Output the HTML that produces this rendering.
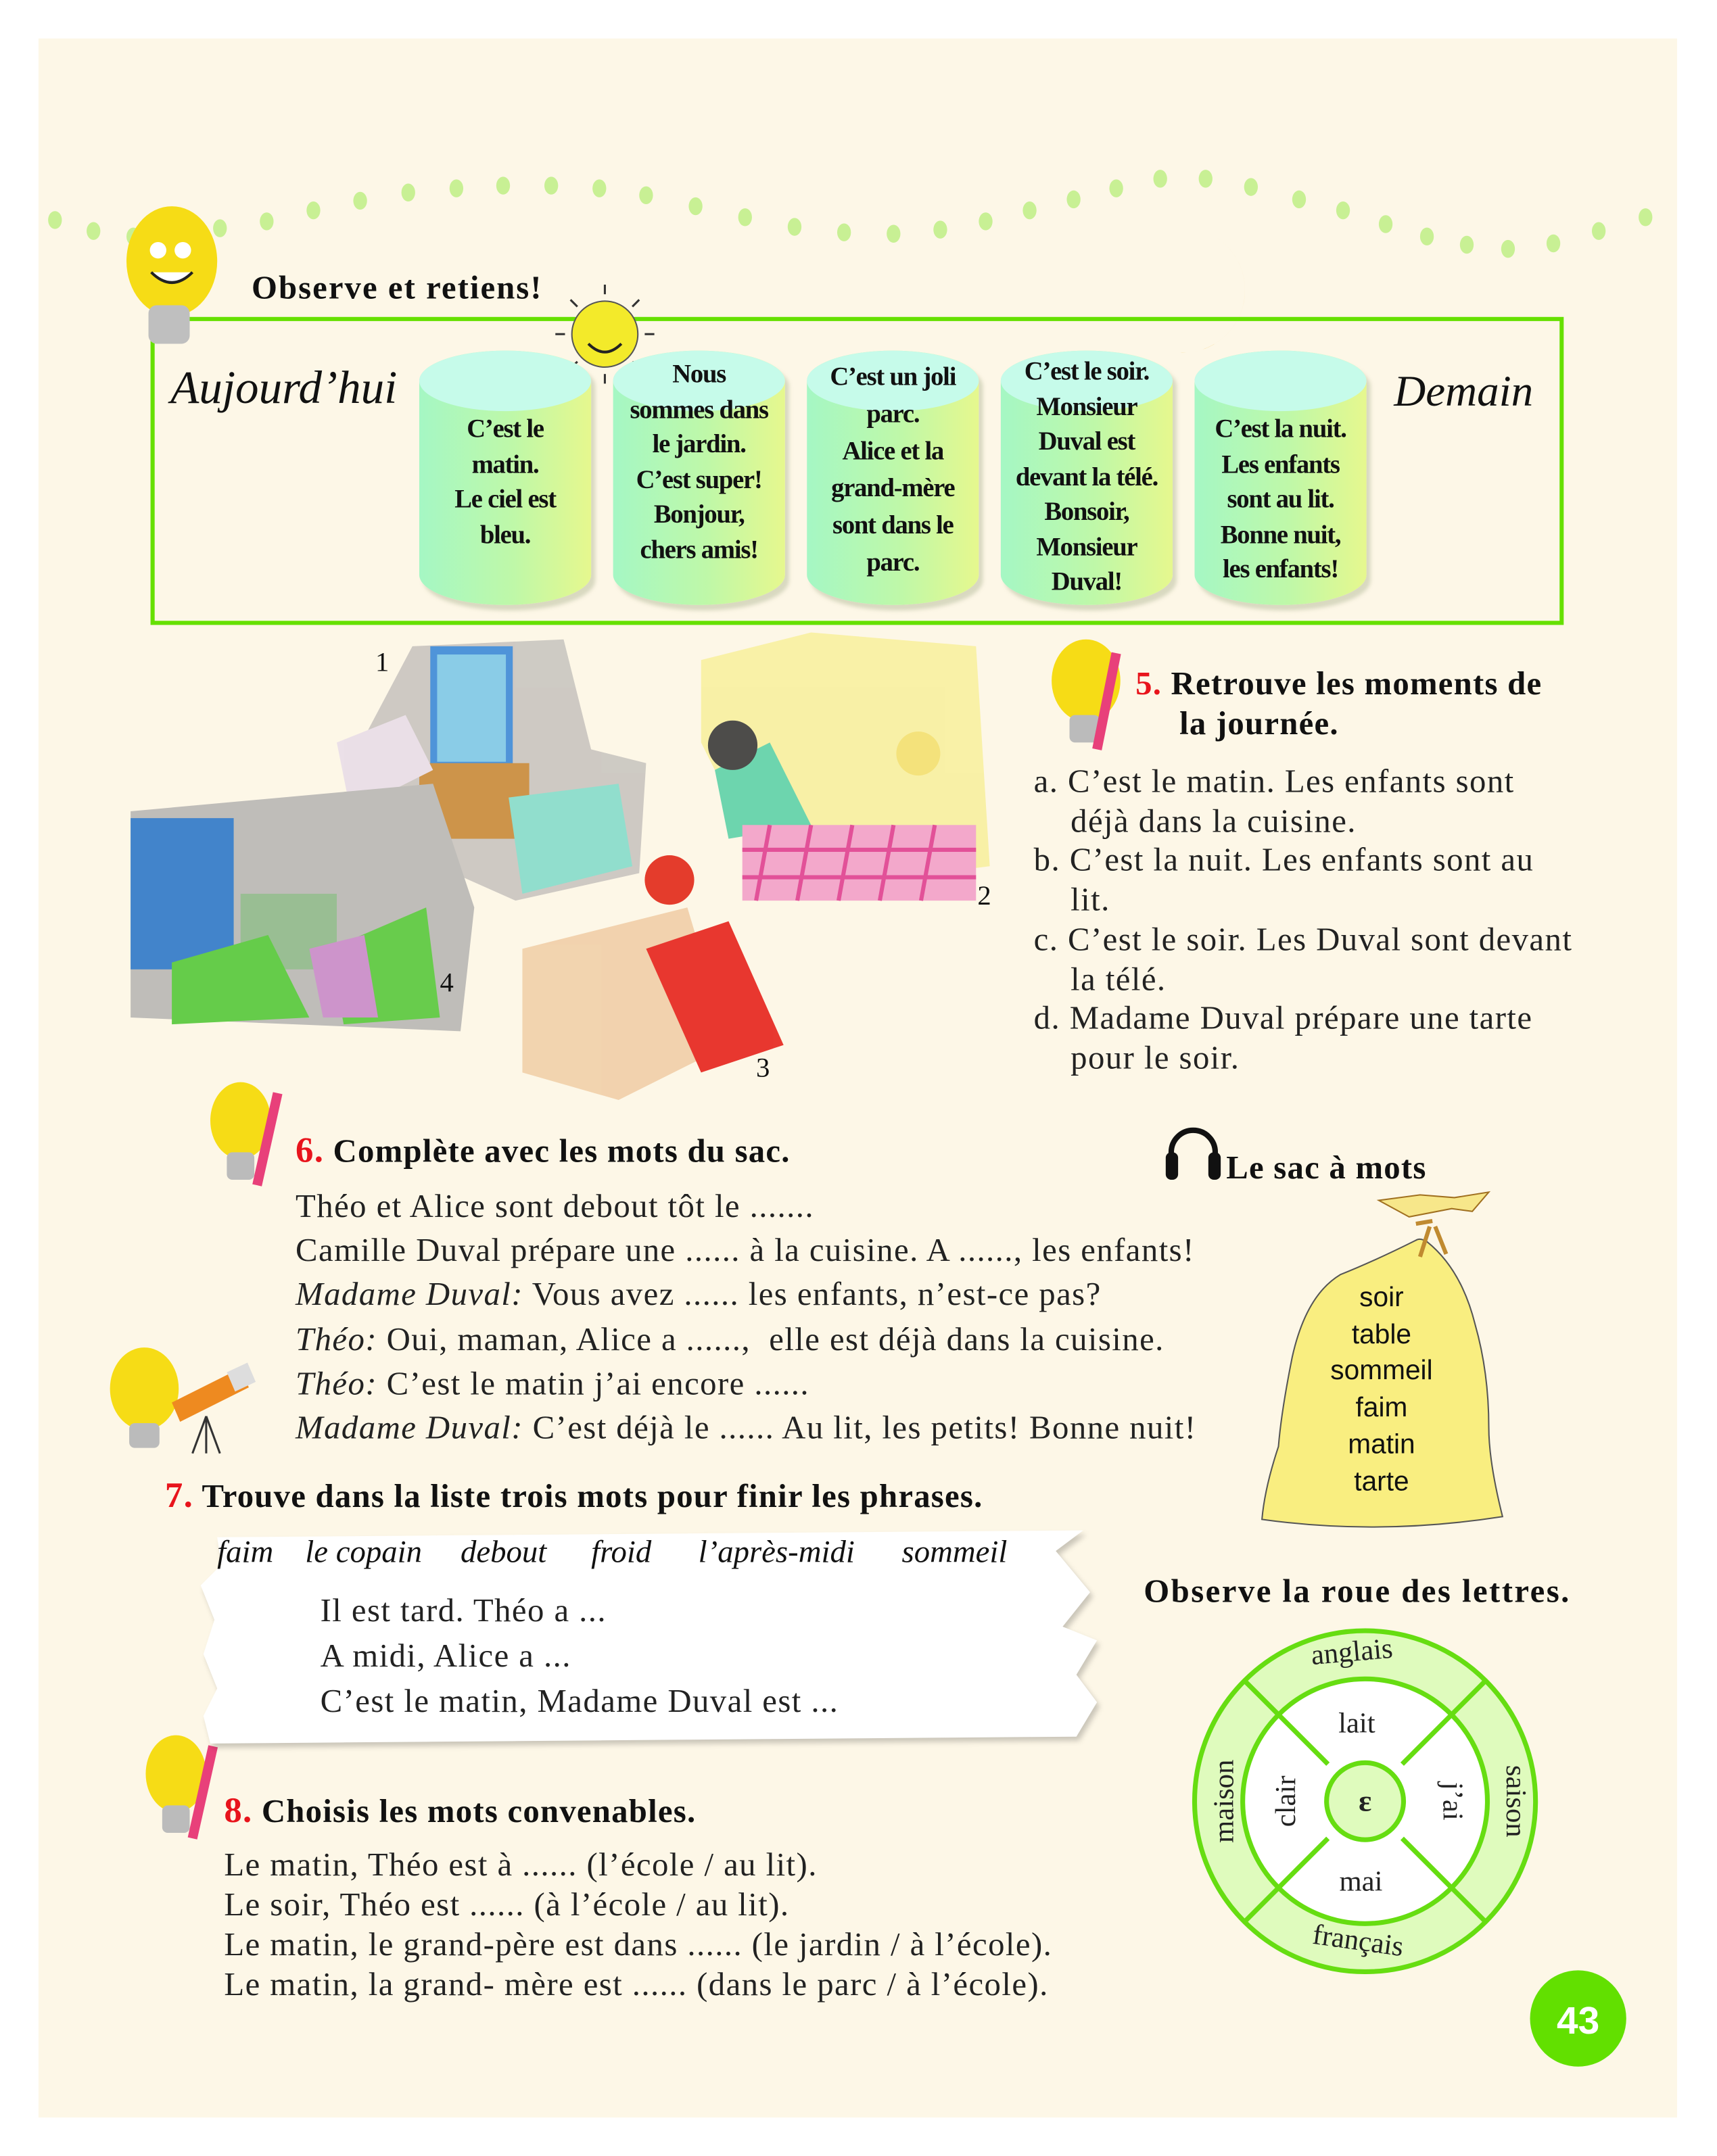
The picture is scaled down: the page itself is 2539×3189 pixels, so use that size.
<!DOCTYPE html>
<html><head><meta charset="utf-8">
<style>
html,body{margin:0;padding:0;background:#fff;}
body{width:2539px;height:3189px;overflow:hidden;position:relative;}
#s{position:absolute;left:0;top:0;width:1249px;height:1568px;transform:scale(2.0328,2.0338);transform-origin:0 0;}
.t{position:absolute;white-space:nowrap;color:#111;}
.serif{font-family:"Liberation Serif",serif;}
.sans{font-family:"Liberation Sans",sans-serif;}
.cyl{position:absolute;top:255px;width:125px;height:185px;border-radius:62px/22px;background:linear-gradient(90deg,#a5f7c4,#bff8a8 55%,#e6f88e);box-shadow:3px 4px 3px rgba(150,160,120,.35);}
.cyl:before{content:"";position:absolute;left:0;top:0;width:125px;height:44px;border-radius:50%;background:#c6fbea;}
.ct{position:absolute;left:0;width:125px;text-align:center;font-family:"Liberation Serif",serif;font-weight:bold;font-size:19px;line-height:25.5px;letter-spacing:-0.6px;color:#111;}
.body{font-family:"Liberation Serif",serif;font-size:24px;letter-spacing:0.7px;color:#222;}
.h{font-family:"Liberation Serif",serif;font-size:24px;font-weight:bold;letter-spacing:0.6px;}
.red{color:#e8141c;}
.w{position:absolute;top:1116px;font-family:"Liberation Serif",serif;font-size:23px;font-style:italic;white-space:nowrap;color:#111;}
</style></head><body>
<div id="s">
<div style="position:absolute;left:28px;top:28px;width:1192px;height:1512px;background:#fdf7e7;"></div>

<svg style="position:absolute;left:0;top:0" width="1249" height="1568">
<g fill="#c8f094">
<ellipse cx="40" cy="160" rx="5" ry="6.5"/><ellipse cx="68" cy="168" rx="5" ry="6.5"/><ellipse cx="97" cy="172" rx="5" ry="6.5"/><ellipse cx="128" cy="170" rx="5" ry="6.5"/><ellipse cx="160" cy="166" rx="5" ry="6.5"/><ellipse cx="194" cy="161" rx="5" ry="6.5"/><ellipse cx="228" cy="153" rx="5" ry="6.5"/><ellipse cx="262" cy="146" rx="5" ry="6.5"/><ellipse cx="297" cy="140" rx="5" ry="6.5"/><ellipse cx="332" cy="137" rx="5" ry="6.5"/><ellipse cx="366" cy="135" rx="5" ry="6.5"/><ellipse cx="401" cy="135" rx="5" ry="6.5"/><ellipse cx="436" cy="137" rx="5" ry="6.5"/><ellipse cx="470" cy="142" rx="5" ry="6.5"/><ellipse cx="506" cy="150" rx="5" ry="6.5"/><ellipse cx="542" cy="158" rx="5" ry="6.5"/><ellipse cx="578" cy="165" rx="5" ry="6.5"/><ellipse cx="614" cy="169" rx="5" ry="6.5"/><ellipse cx="650" cy="170" rx="5" ry="6.5"/><ellipse cx="684" cy="167" rx="5" ry="6.5"/><ellipse cx="717" cy="161" rx="5" ry="6.5"/><ellipse cx="749" cy="153" rx="5" ry="6.5"/><ellipse cx="781" cy="145" rx="5" ry="6.5"/><ellipse cx="812" cy="137" rx="5" ry="6.5"/><ellipse cx="844" cy="130" rx="5" ry="6.5"/><ellipse cx="877" cy="130" rx="5" ry="6.5"/><ellipse cx="910" cy="136" rx="5" ry="6.5"/><ellipse cx="945" cy="145" rx="5" ry="6.5"/><ellipse cx="977" cy="153" rx="5" ry="6.5"/><ellipse cx="1008" cy="163" rx="5" ry="6.5"/><ellipse cx="1038" cy="172" rx="5" ry="6.5"/><ellipse cx="1067" cy="178" rx="5" ry="6.5"/><ellipse cx="1097" cy="181" rx="5" ry="6.5"/><ellipse cx="1130" cy="177" rx="5" ry="6.5"/><ellipse cx="1163" cy="168" rx="5" ry="6.5"/><ellipse cx="1197" cy="158" rx="5" ry="6.5"/>
</g>
<rect x="111" y="232" width="1025" height="221" fill="none" stroke="#66e000" stroke-width="3"/>
<ellipse cx="125" cy="190" rx="33" ry="40" fill="#f6dc16"/>
<rect x="108" y="222" width="30" height="28" rx="6" fill="#bfbfbf"/>
<circle cx="115" cy="182" r="6" fill="#fff"/><circle cx="133" cy="182" r="6" fill="#fff"/>
<path d="M110 198 q15 15 30 0" stroke="#222" stroke-width="2" fill="#fff"/>
<circle cx="440" cy="243" r="24" fill="#f3ea2a" stroke="#555" stroke-width="1"/>
<g stroke="#333" stroke-width="1.5"><line x1="440" y1="207" x2="440" y2="214"/><line x1="440" y1="272" x2="440" y2="279"/><line x1="404" y1="243" x2="411" y2="243"/><line x1="469" y1="243" x2="476" y2="243"/><line x1="415" y1="218" x2="420" y2="223"/><line x1="460" y1="263" x2="465" y2="268"/><line x1="465" y1="218" x2="460" y2="223"/><line x1="415" y1="268" x2="420" y2="263"/></g>
<path d="M428 250 q12 12 24 0" stroke="#222" stroke-width="2" fill="none"/>
<path d="M880 170 a42 42 0 1 1 -40 82 a36 36 0 1 0 40 -82z" fill="#f7b21c"/>
<g opacity="0.9">
<path d="M300 470 l110 -5 l20 80 l40 10 l-5 80 l-90 20 l-90 -40 l-30 -60z" fill="#c9c5c0"/>
<rect x="313" y="470" width="60" height="90" fill="#3d8ad8"/>
<rect x="318" y="476" width="50" height="78" fill="#7ec8e8"/>
<rect x="305" y="555" width="80" height="55" fill="#c88a3a"/>
<path d="M245 540 l50 -20 l20 40 l-60 30z" fill="#e9dde8"/>
<path d="M370 580 l80 -10 l10 60 l-80 20z" fill="#86dccb"/>
<path d="M95 590 l220 -20 l30 90 l-10 90 l-240 -10z" fill="#b9b7b5"/>
<rect x="95" y="595" width="75" height="110" fill="#2e78c8"/>
<rect x="175" y="650" width="70" height="55" fill="#8fb88a"/>
<path d="M125 700 l70 -20 l30 60 l-100 5z" fill="#55c83a"/>
<path d="M240 690 l70 -30 l10 80 l-70 5z" fill="#58c83c"/>
<path d="M225 690 l40 -10 l10 60 l-40 0z" fill="#c88ac8"/>
<path d="M510 480 l80 -20 l120 10 l10 160 l-80 10 l-100 -40 l-30 -60z" fill="#f8f0a0"/>
<path d="M520 560 l40 -20 l30 60 l-60 10z" fill="#5ed2a8"/>
<rect x="540" y="600" width="170" height="55" fill="#f2a0c8"/>
<g stroke="#e04090" stroke-width="3"><line x1="560" y1="600" x2="550" y2="655"/><line x1="590" y1="600" x2="580" y2="655"/><line x1="620" y1="600" x2="610" y2="655"/><line x1="650" y1="600" x2="640" y2="655"/><line x1="680" y1="600" x2="670" y2="655"/><line x1="540" y1="618" x2="710" y2="618"/><line x1="540" y1="638" x2="710" y2="638"/></g>
<circle cx="533" cy="542" r="18" fill="#3a3a3a"/>
<circle cx="668" cy="548" r="16" fill="#f4e070"/>
<path d="M380 690 l120 -30 l30 100 l-80 40 l-70 -20z" fill="#f1cfa8"/>
<path d="M470 690 l60 -20 l40 90 l-60 20z" fill="#e6231c"/>
<circle cx="487" cy="640" r="18" fill="#e22818"/>
</g>
<ellipse cx="790" cy="495" rx="25" ry="30" fill="#f6dc16"/><rect x="778" y="520" width="22" height="20" rx="4" fill="#bbb"/>
<line x1="812" y1="475" x2="798" y2="545" stroke="#e8407a" stroke-width="7"/>
<ellipse cx="175" cy="815" rx="22" ry="28" fill="#f6dc16"/><rect x="165" y="838" width="20" height="20" rx="4" fill="#bbb"/>
<line x1="202" y1="795" x2="187" y2="862" stroke="#e8407a" stroke-width="7"/>
<ellipse cx="105" cy="1010" rx="25" ry="30" fill="#f6dc16"/><rect x="94" y="1035" width="22" height="18" rx="4" fill="#bbb"/>
<path d="M125 1020 l50 -25 l6 14 l-50 25z" fill="#ee8a20"/><path d="M165 998 l15 -7 l6 14 l-15 7z" fill="#ddd"/>
<g stroke="#333" stroke-width="1.5"><line x1="150" y1="1030" x2="140" y2="1057"/><line x1="150" y1="1030" x2="160" y2="1057"/><line x1="150" y1="1030" x2="150" y2="1057"/></g>
<ellipse cx="128" cy="1290" rx="22" ry="28" fill="#f6dc16"/><rect x="118" y="1313" width="20" height="20" rx="4" fill="#bbb"/>
<line x1="155" y1="1270" x2="140" y2="1337" stroke="#e8407a" stroke-width="7"/>
<path d="M852 852 v-14 a16 16 0 0 1 32 0 v14" stroke="#111" stroke-width="4" fill="none"/>
<rect x="848" y="838" width="9" height="20" rx="4" fill="#111"/><rect x="879" y="838" width="9" height="20" rx="4" fill="#111"/>
<!-- bag -->
<path d="M1030 902 q-30 15 -55 25 q-25 15 -35 60 q-8 40 -10 65 q-10 30 -12 53 q85 12 175 -2 q-10 -40 -10 -65 q0 -40 -10 -75 q-10 -40 -35 -60 q-5 -3 -8 -1z" fill="#f9ee80" stroke="#555" stroke-width="1"/>
<path d="M1025 885 l-22 -12 l30 -4 l25 2 l25 -4 l-12 14 l-15 -2 z" fill="#f7e78a" stroke="#a07020" stroke-width="1"/>
<path d="M1030 890 l12 -2 M1040 892 l-7 22 M1044 892 l8 20" stroke="#c08a30" stroke-width="3"/>
<path d="M158 1118 l630 -5 l-20 15 l25 30 l-20 25 l25 10 l-15 25 l15 20 l-15 25 l-630 5 l-5 -20 l10 -20 l-10 -25 l8 -25 l-10 -25 l15 -15z" fill="#fff" style="filter:drop-shadow(2px 3px 2px rgba(0,0,0,.2))"/>
<g stroke="#66dd11" stroke-width="3.5">
<circle cx="993" cy="1310" r="124" fill="#dffbbd"/>
<circle cx="993" cy="1310" r="89" fill="#fff"/>
<line x1="905" y1="1222" x2="966" y2="1283"/><line x1="1081" y1="1222" x2="1020" y2="1283"/>
<line x1="905" y1="1398" x2="966" y2="1337"/><line x1="1081" y1="1398" x2="1020" y2="1337"/>
<circle cx="993" cy="1310" r="28" fill="#dffbbd"/>
</g>
<g font-family="Liberation Serif, serif" font-size="21" fill="#222" text-anchor="middle">
<text x="984" y="1208" transform="rotate(-5 984 1208)">anglais</text>
<text x="987" y="1260">lait</text>
<text x="990" y="1375">mai</text>
<text x="987" y="1418" transform="rotate(8 987 1418)">français</text>
<text x="942" y="1310" transform="rotate(-90 942 1310)">clair</text>
<text x="1050" y="1310" transform="rotate(90 1050 1310)">j’ai</text>
<text x="897" y="1310" transform="rotate(-90 897 1310)">maison</text>
<text x="1096" y="1310" transform="rotate(90 1096 1310)">saison</text>
<text x="993" y="1317" font-weight="bold" font-size="22">ɛ</text>
</g>
<circle cx="1148" cy="1468" r="35" fill="#62e000"/>
<text x="1148" y="1479" text-anchor="middle" font-family="Liberation Sans, sans-serif" font-weight="bold" font-size="28" fill="#fff">43</text>
</svg>

<div class="t serif" style="left:183px;top:197px;font-size:24px;font-weight:bold;letter-spacing:1px;">Observe et retiens!</div>
<div class="t serif" style="left:124px;top:264px;font-size:34px;font-style:italic;">Aujourd’hui</div>
<div class="t serif" style="left:1014px;top:266px;font-size:32px;font-style:italic;">Demain</div>

<div class="cyl" style="left:305px"><div class="ct" style="top:45px">C’est le<br>matin.<br>Le ciel est<br>bleu.</div></div>
<div class="cyl" style="left:446px"><div class="ct" style="top:5px">Nous<br>sommes dans<br>le jardin.<br>C’est super!<br>Bonjour,<br>chers amis!</div></div>
<div class="cyl" style="left:587px"><div class="ct" style="top:6px;line-height:27px">C’est un joli<br>parc.<br>Alice et la<br>grand-mère<br>sont dans le<br>parc.</div></div>
<div class="cyl" style="left:728px"><div class="ct" style="top:3px">C’est le soir.<br>Monsieur<br>Duval est<br>devant la télé.<br>Bonsoir,<br>Monsieur<br>Duval!</div></div>
<div class="cyl" style="left:869px"><div class="ct" style="top:45px">C’est la nuit.<br>Les enfants<br>sont au lit.<br>Bonne nuit,<br>les enfants!</div></div>

<div class="t serif" style="left:273px;top:471px;font-size:20px;">1</div>
<div class="t serif" style="left:711px;top:641px;font-size:20px;">2</div>
<div class="t serif" style="left:550px;top:766px;font-size:20px;">3</div>
<div class="t serif" style="left:320px;top:704px;font-size:20px;">4</div>

<div class="t h" style="left:826px;top:485px;"><span class="red">5.</span> Retrouve les moments de</div>
<div class="t h" style="left:858px;top:514px;">la journée.</div>
<div class="t body" style="left:752px;top:555px;line-height:28.7px;">a. C’est le matin. Les enfants sont<br>&nbsp;&nbsp;&nbsp;&nbsp;déjà dans la cuisine.<br>b. C’est la nuit. Les enfants sont au<br>&nbsp;&nbsp;&nbsp;&nbsp;lit.<br>c. C’est le soir. Les Duval sont devant<br>&nbsp;&nbsp;&nbsp;&nbsp;la télé.<br>d. Madame Duval prépare une tarte<br>&nbsp;&nbsp;&nbsp;&nbsp;pour le soir.</div>

<div class="t h" style="left:215px;top:822px;"><span class="red" style="font-size:26px">6.</span> Complète avec les mots du sac.</div>
<div class="t body" style="left:215px;top:862px;line-height:32.2px;">Théo et Alice sont debout tôt le .......<br>Camille Duval prépare une ...... à la cuisine. A ......, les enfants!<br><i>Madame Duval:</i> Vous avez ...... les enfants, n’est-ce pas?<br><i>Théo:</i> Oui, maman, Alice a ......,&nbsp; elle est déjà dans la cuisine.<br><i>Théo:</i> C’est le matin j’ai encore ......<br><i>Madame Duval:</i> C’est déjà le ...... Au lit, les petits! Bonne nuit!</div>

<div class="t h" style="left:892px;top:837px;">Le sac à mots</div>
<div class="t sans" style="left:945px;top:931px;width:120px;text-align:center;font-size:20px;line-height:26.7px;">soir<br>table<br>sommeil<br>faim<br>matin<br>tarte</div>

<div class="t h" style="left:120px;top:1073px;"><span class="red" style="font-size:26px">7.</span> Trouve dans la liste trois mots pour finir les phrases.</div>
<div class="w" style="left:158px">faim</div>
<div class="w" style="left:222px">le copain</div>
<div class="w" style="left:335px">debout</div>
<div class="w" style="left:430px">froid</div>
<div class="w" style="left:508px">l’après-midi</div>
<div class="w" style="left:656px">sommeil</div>
<div class="t body" style="left:233px;top:1156px;line-height:33px;">Il est tard. Théo a ...<br>A midi, Alice a ...<br>C’est le matin, Madame Duval est ...</div>

<div class="t h" style="left:832px;top:1145px;letter-spacing:1.2px;">Observe la roue des lettres.</div>

<div class="t h" style="left:163px;top:1302px;"><span class="red" style="font-size:26px">8.</span> Choisis les mots convenables.</div>
<div class="t body" style="left:163px;top:1343px;line-height:29px;">Le matin, Théo est à ...... (l’école / au lit).<br>Le soir, Théo est ...... (à l’école / au lit).<br>Le matin, le grand-père est dans ...... (le jardin / à l’école).<br>Le matin, la grand- mère est ...... (dans le parc / à l’école).</div>
</div>
</body></html>
